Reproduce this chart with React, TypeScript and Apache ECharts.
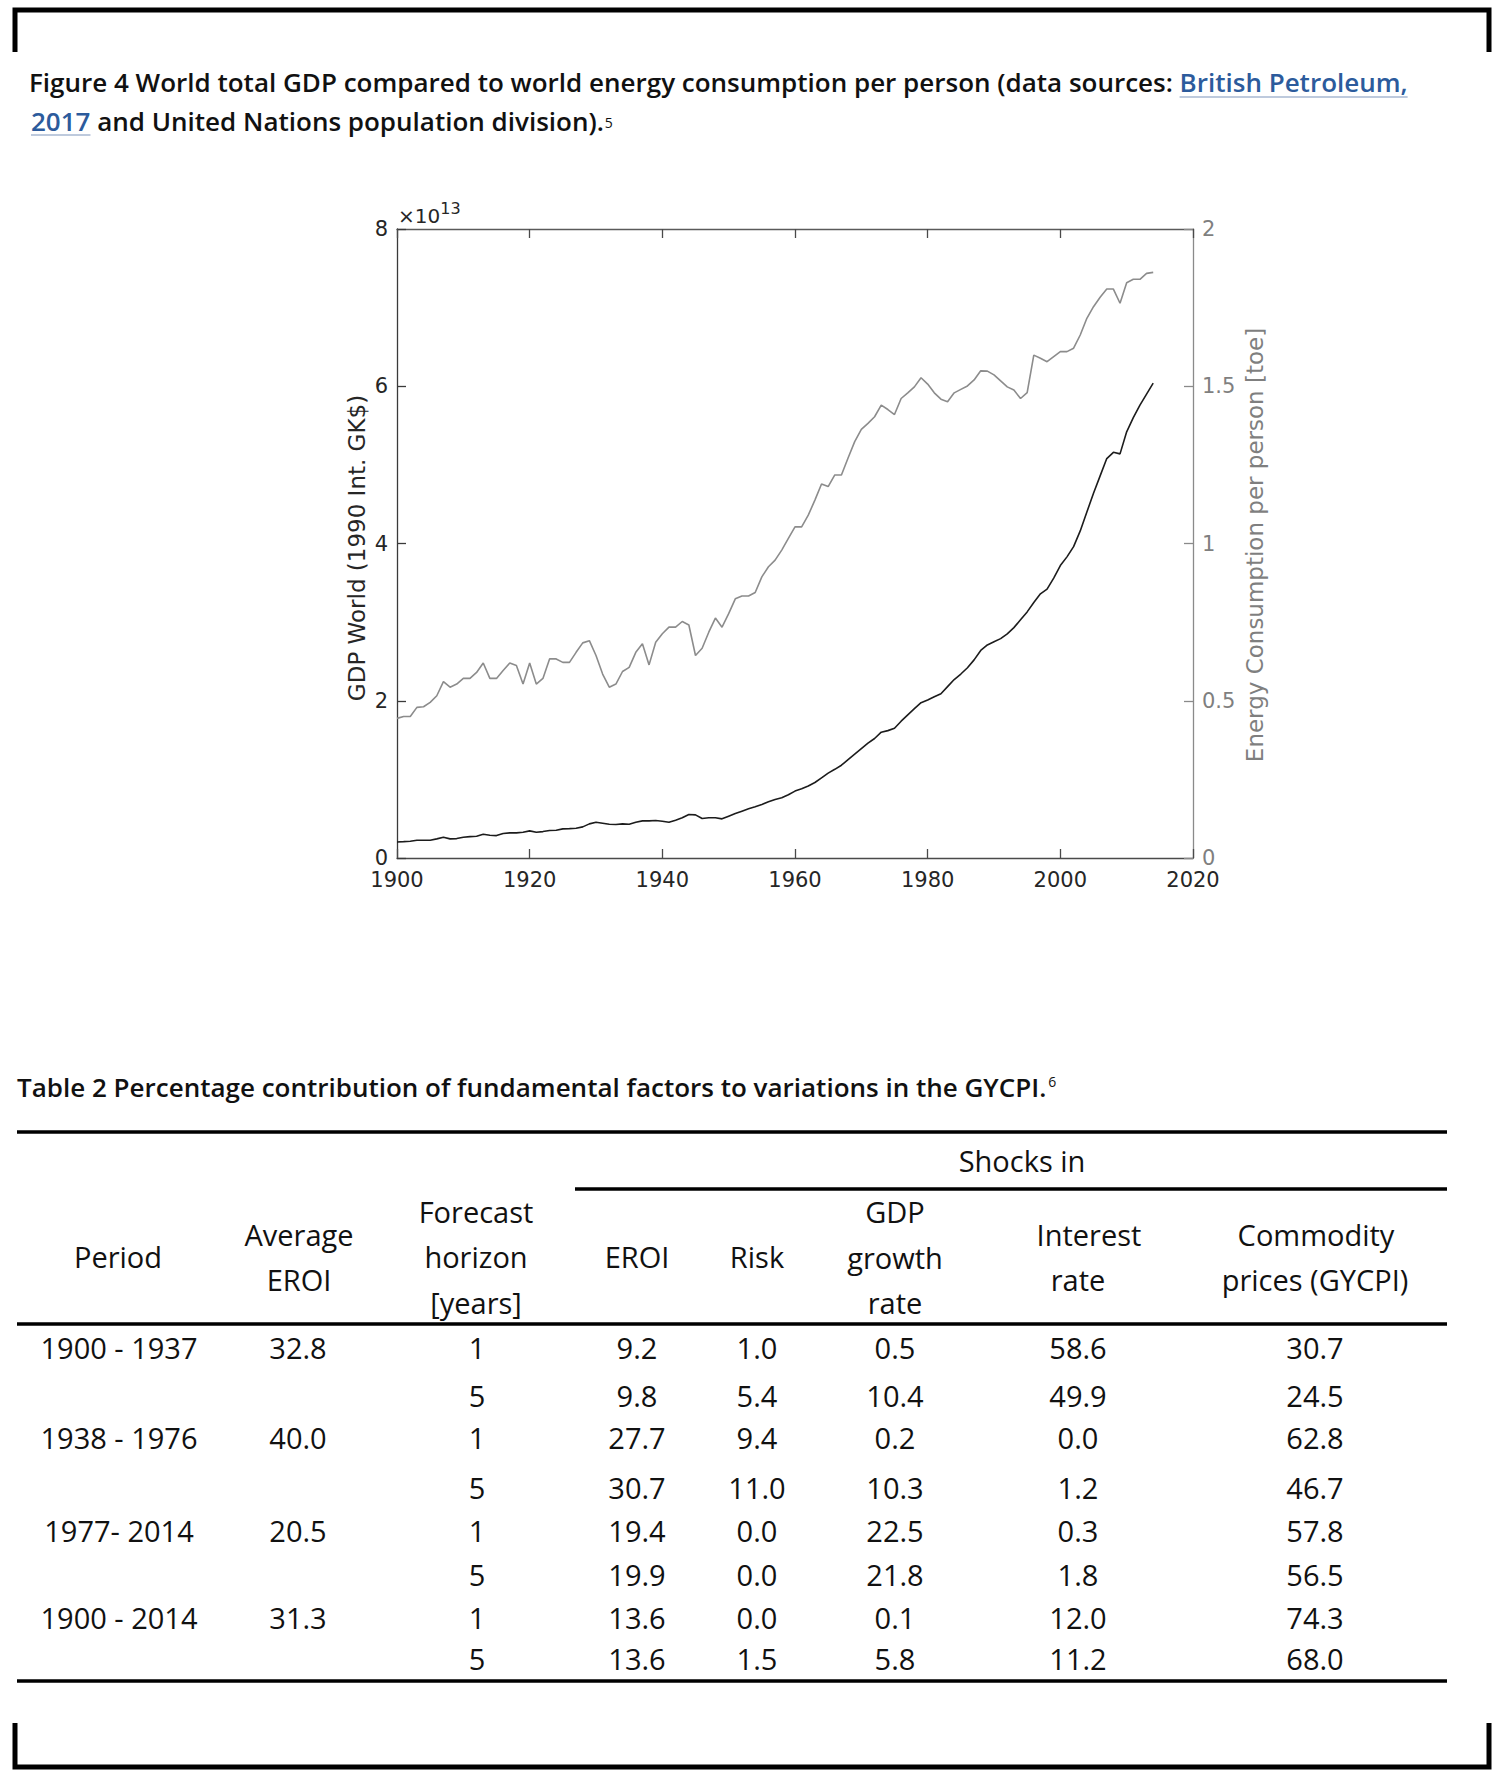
import React, { useEffect, useRef } from "react";
import * as echarts from "echarts";

// ---------------- DATA ----------------
const START_YEAR = 1900;

// World GDP, in units of 10^13 (1990 Int. GK$), one value per year 1900..2014
const GDP_E13 = [
  0.204, 0.208, 0.213, 0.226, 0.226, 0.226, 0.243, 0.264, 0.243, 0.247,
  0.264, 0.272, 0.277, 0.302, 0.289, 0.285, 0.311, 0.319, 0.319, 0.328,
  0.345, 0.328, 0.336, 0.349, 0.353, 0.370, 0.374, 0.379, 0.396, 0.434,
  0.455, 0.443, 0.430, 0.426, 0.434, 0.430, 0.455, 0.472, 0.472, 0.477,
  0.468, 0.455, 0.481, 0.511, 0.553, 0.549, 0.502, 0.511, 0.511, 0.498,
  0.532, 0.566, 0.596, 0.626, 0.651, 0.681, 0.715, 0.745, 0.766, 0.804,
  0.851, 0.880, 0.915, 0.960, 1.020, 1.080, 1.128, 1.180, 1.250, 1.320,
  1.390, 1.460, 1.520, 1.600, 1.620, 1.650, 1.740, 1.820, 1.900, 1.975,
  2.010, 2.050, 2.090, 2.180, 2.270, 2.340, 2.420, 2.520, 2.640, 2.710,
  2.750, 2.790, 2.850, 2.930, 3.030, 3.130, 3.250, 3.360, 3.420, 3.560,
  3.720, 3.830, 3.960, 4.160, 4.400, 4.640, 4.860, 5.080, 5.160, 5.140,
  5.420, 5.600, 5.760, 5.900, 6.040,
];

// Energy consumption per person [toe], one value per year 1900..2014
const ENERGY_TOE = [
  0.444, 0.450, 0.450, 0.479, 0.481, 0.495, 0.516, 0.561, 0.543, 0.553,
  0.571, 0.571, 0.590, 0.620, 0.571, 0.571, 0.596, 0.620, 0.612, 0.553,
  0.620, 0.553, 0.571, 0.633, 0.633, 0.622, 0.622, 0.654, 0.684, 0.691,
  0.644, 0.585, 0.543, 0.553, 0.593, 0.606, 0.654, 0.681, 0.614, 0.686,
  0.713, 0.734, 0.734, 0.752, 0.741, 0.644, 0.667, 0.718, 0.763, 0.734,
  0.777, 0.824, 0.833, 0.833, 0.844, 0.894, 0.926, 0.947, 0.979, 1.016,
  1.053, 1.053, 1.090, 1.138, 1.189, 1.181, 1.218, 1.218, 1.272, 1.324,
  1.363, 1.382, 1.403, 1.440, 1.426, 1.410, 1.461, 1.479, 1.498, 1.527,
  1.507, 1.479, 1.459, 1.451, 1.479, 1.490, 1.501, 1.520, 1.549, 1.548,
  1.536, 1.517, 1.498, 1.488, 1.461, 1.480, 1.599, 1.589, 1.578, 1.594,
  1.610, 1.610, 1.621, 1.663, 1.716, 1.753, 1.783, 1.809, 1.809, 1.764,
  1.829, 1.840, 1.840, 1.859, 1.862,
];

const YEARS = GDP_E13.map((_, i) => START_YEAR + i);

const X_MIN = 1900;
const X_MAX = 2020;
const X_STEP = 20;
const GDP_MAX = 8;
const GDP_STEP = 2;
const ENERGY_MAX = 2;
const ENERGY_STEP = 0.5;

const CAPTION_LINE1 = "Figure 4 World total GDP compared to world energy consumption per person (data sources: ";
const CAPTION_LINK1 = "British Petroleum,";
const CAPTION_LINK2 = "2017";
const CAPTION_LINE2 = " and United Nations population division).";
const CAPTION_NOTE = "5";
const GDP_EXPONENT_BASE = "×10";
const GDP_EXPONENT = "13";
const GDP_AXIS_TITLE = "GDP World (1990 Int. GK$)";
const ENERGY_AXIS_TITLE = "Energy Consumption per person [toe]";

const TABLE_TITLE = "Table 2 Percentage contribution of fundamental factors to variations in the GYCPI.";
const TABLE_NOTE = "6";
const SHOCKS_HEADER = "Shocks in";
const HEADER_PERIOD = ["Period"];
const HEADER_AVG_EROI = ["Average", "EROI"];
const HEADER_HORIZON = ["Forecast", "horizon", "[years]"];
const HEADER_EROI = ["EROI"];
const HEADER_RISK = ["Risk"];
const HEADER_GDP = ["GDP", "growth", "rate"];
const HEADER_INTEREST = ["Interest", "rate"];
const HEADER_COMMODITY = ["Commodity", "prices (GYCPI)"];

const PERIODS = ["1900 - 1937", "", "1938 - 1976", "", "1977- 2014", "", "1900 - 2014", ""];
const AVG_EROI = ["32.8", "", "40.0", "", "20.5", "", "31.3", ""];
const HORIZON = ["1", "5", "1", "5", "1", "5", "1", "5"];
const SHOCK_EROI = ["9.2", "9.8", "27.7", "30.7", "19.4", "19.9", "13.6", "13.6"];
const SHOCK_RISK = ["1.0", "5.4", "9.4", "11.0", "0.0", "0.0", "0.0", "1.5"];
const SHOCK_GDP = ["0.5", "10.4", "0.2", "10.3", "22.5", "21.8", "0.1", "5.8"];
const SHOCK_INTEREST = ["58.6", "49.9", "0.0", "1.2", "0.3", "1.8", "12.0", "11.2"];
const SHOCK_COMMODITY = ["30.7", "24.5", "62.8", "46.7", "57.8", "56.5", "74.3", "68.0"];

// ---------------- STYLE / LAYOUT ----------------
const CAP_FONT = '600 26px "Open Sans"';
const TAB_FONT = '400 29px "Open Sans"';
const NOTE_FONT = '400 14px "Open Sans"';
const AX_FONT = '"DejaVu Sans"';
const LINK_COLOR = "#2c5b9c";
const TEXT_COLOR = "#111111";
const AX_DARK = "#262626";
const AX_GRAY = "#8a8a8a";

function measure(text: string, font: string): number {
  const c = document.createElement("canvas").getContext("2d");
  if (!c) return text.length * 12;
  c.font = font;
  return c.measureText(text).width;
}

function txt(x: number, y: number, text: string, font: string, fill: string, align = "center", extra: any = {}) {
  return {
    type: "text",
    x,
    y,
    silent: true,
    ...extra,
    style: {
      text,
      font,
      fill,
      textAlign: align,
      textVerticalAlign: "middle",
      verticalAlign: "middle",
    },
  };
}

function hline(x1: number, x2: number, y: number, w: number, color = "#000") {
  return {
    type: "line",
    silent: true,
    shape: { x1, y1: y, x2, y2: y },
    style: { stroke: color, lineWidth: w },
  };
}

function buildGraphics() {
  const g: any[] = [];
  // frame brackets
  g.push({
    type: "polyline",
    silent: true,
    shape: { points: [[15, 52], [15, 10], [1489, 10], [1489, 52]] },
    style: { stroke: "#000", lineWidth: 5, fill: null },
  });
  g.push({
    type: "polyline",
    silent: true,
    shape: { points: [[15, 1723], [15, 1767], [1489, 1767], [1489, 1723]] },
    style: { stroke: "#000", lineWidth: 5, fill: null },
  });

  // caption
  const cx = 29;
  const y1 = 82;
  const y2 = 121;
  const w1 = measure(CAPTION_LINE1, CAP_FONT);
  const wl1 = measure(CAPTION_LINK1, CAP_FONT);
  g.push(txt(cx, y1, CAPTION_LINE1, CAP_FONT, TEXT_COLOR, "left"));
  g.push(txt(cx + w1, y1, CAPTION_LINK1, CAP_FONT, LINK_COLOR, "left"));
  g.push(hline(cx + w1, cx + w1 + wl1, 97, 1.5, "#a9b8d2"));
  const wl2 = measure(CAPTION_LINK2, CAP_FONT);
  const w2 = measure(CAPTION_LINE2, CAP_FONT);
  g.push(txt(cx + 2, y2, CAPTION_LINK2, CAP_FONT, LINK_COLOR, "left"));
  g.push(hline(cx + 2, cx + 2 + wl2, 135, 1.5, "#a9b8d2"));
  g.push(txt(cx + 2 + wl2, y2, CAPTION_LINE2, CAP_FONT, TEXT_COLOR, "left"));
  g.push(txt(cx + 2 + wl2 + w2 + 1, y2 + 1, CAPTION_NOTE, NOTE_FONT, TEXT_COLOR, "left"));

  // chart extras: exponent and axis titles
  const expFont = `20px ${AX_FONT}`;
  const wb = measure(GDP_EXPONENT_BASE, expFont);
  g.push(txt(398, 216, GDP_EXPONENT_BASE, expFont, AX_DARK, "left"));
  g.push(txt(398 + wb, 208, GDP_EXPONENT, `16px ${AX_FONT}`, AX_DARK, "left"));
  g.push(txt(357, 548, GDP_AXIS_TITLE, `23px ${AX_FONT}`, AX_DARK, "center", { rotation: Math.PI / 2 }));
  g.push(txt(1255, 545, ENERGY_AXIS_TITLE, `23px ${AX_FONT}`, "#7f7f7f", "center", { rotation: Math.PI / 2 }));

  // table title
  const tw = measure(TABLE_TITLE, CAP_FONT);
  g.push(txt(17, 1087, TABLE_TITLE, CAP_FONT, TEXT_COLOR, "left"));
  g.push(txt(17 + tw + 2, 1081, TABLE_NOTE, NOTE_FONT, TEXT_COLOR, "left"));

  // rules
  g.push(hline(17, 1447, 1132, 3.5));
  g.push(hline(575, 1447, 1189, 3.5));
  g.push(hline(17, 1447, 1324, 3.5));
  g.push(hline(17, 1447, 1681, 3.5));

  // header
  g.push(txt(1022, 1160, SHOCKS_HEADER, TAB_FONT, TEXT_COLOR));
  const headerCols: [string[], number[], number[]][] = [
    [HEADER_PERIOD, [118], [1256]],
    [HEADER_AVG_EROI, [299, 299], [1234, 1279]],
    [HEADER_HORIZON, [476, 476, 476], [1211, 1256, 1302]],
    [HEADER_EROI, [637], [1256]],
    [HEADER_RISK, [757], [1256]],
    [HEADER_GDP, [895, 895, 895], [1211, 1257, 1302]],
    [HEADER_INTEREST, [1089, 1078], [1234, 1279]],
    [HEADER_COMMODITY, [1316, 1315], [1234, 1279]],
  ];
  headerCols.forEach(([lines, xs, ys]) => {
    lines.forEach((l, i) => g.push(txt(xs[i], ys[i], l, TAB_FONT, TEXT_COLOR)));
  });

  // body
  const colX = [119, 298, 477, 637, 757, 895, 1078, 1315];
  const rowY = [1347, 1395, 1437, 1487, 1530, 1574, 1617, 1658];
  const cols = [PERIODS, AVG_EROI, HORIZON, SHOCK_EROI, SHOCK_RISK, SHOCK_GDP, SHOCK_INTEREST, SHOCK_COMMODITY];
  cols.forEach((col, ci) => {
    col.forEach((v, ri) => {
      if (v) g.push(txt(colX[ci], rowY[ri], v, TAB_FONT, TEXT_COLOR));
    });
  });
  return g;
}

function buildOption(): any {
  const axisLabelBase = { fontFamily: AX_FONT, fontSize: 21 };
  return {
    animation: false,
    backgroundColor: "#ffffff",
    grid: { left: 397, top: 229, width: 796, height: 629, containLabel: false },
    xAxis: [
      {
        type: "value",
        min: X_MIN,
        max: X_MAX,
        interval: X_STEP,
        position: "bottom",
        axisLine: { show: true, onZero: false, lineStyle: { color: "#4a4a4a", width: 1.3 } },
        axisTick: { show: true, inside: true, length: 9, lineStyle: { color: "#4a4a4a", width: 1.3 } },
        axisLabel: { ...axisLabelBase, color: AX_DARK, margin: 11, formatter: (v: number) => String(v) },
        splitLine: { show: false },
      },
      {
        type: "value",
        min: X_MIN,
        max: X_MAX,
        interval: X_STEP,
        position: "top",
        axisLine: { show: true, onZero: false, lineStyle: { color: "#5a5a5a", width: 1.3 } },
        axisTick: { show: true, inside: true, length: 9, lineStyle: { color: "#4a4a4a", width: 1.3 } },
        axisLabel: { show: false },
        splitLine: { show: false },
      },
    ],
    yAxis: [
      {
        type: "value",
        min: 0,
        max: GDP_MAX,
        interval: GDP_STEP,
        position: "left",
        axisLine: { show: true, onZero: false, lineStyle: { color: "#3a3a3a", width: 1.3 } },
        axisTick: { show: true, inside: true, length: 9, lineStyle: { color: "#3a3a3a", width: 1.3 } },
        axisLabel: { ...axisLabelBase, color: AX_DARK, margin: 9, formatter: (v: number) => String(v) },
        splitLine: { show: false },
      },
      {
        type: "value",
        min: 0,
        max: ENERGY_MAX,
        interval: ENERGY_STEP,
        position: "right",
        axisLine: { show: true, onZero: false, lineStyle: { color: AX_GRAY, width: 1.3 } },
        axisTick: { show: true, inside: true, length: 9, lineStyle: { color: AX_GRAY, width: 1.3 } },
        axisLabel: { ...axisLabelBase, color: "#7f7f7f", margin: 9, formatter: (v: number) => String(v) },
        splitLine: { show: false },
      },
    ],
    series: [
      {
        name: "Energy per person",
        type: "line",
        xAxisIndex: 0,
        yAxisIndex: 1,
        showSymbol: false,
        symbol: "none",
        lineStyle: { color: "#8c8c8c", width: 1.6 },
        data: YEARS.map((y, i) => [y, ENERGY_TOE[i]]),
      },
      {
        name: "GDP World",
        type: "line",
        xAxisIndex: 0,
        yAxisIndex: 0,
        showSymbol: false,
        symbol: "none",
        lineStyle: { color: "#1c1c1c", width: 1.6 },
        data: YEARS.map((y, i) => [y, GDP_E13[i]]),
      },
    ],
    graphic: { elements: buildGraphics() },
  };
}

export default function App() {
  const ref = useRef<HTMLDivElement>(null);
  useEffect(() => {
    const el = ref.current;
    if (!el) return;
    const chart = echarts.init(el, null, { renderer: "svg" });
    chart.setOption(buildOption());
    return () => chart.dispose();
  }, []);
  return (
    <div
      ref={ref}
      style={{ position: "absolute", left: 0, top: 0, width: 1510, height: 1780, background: "#fff" }}
    />
  );
}
